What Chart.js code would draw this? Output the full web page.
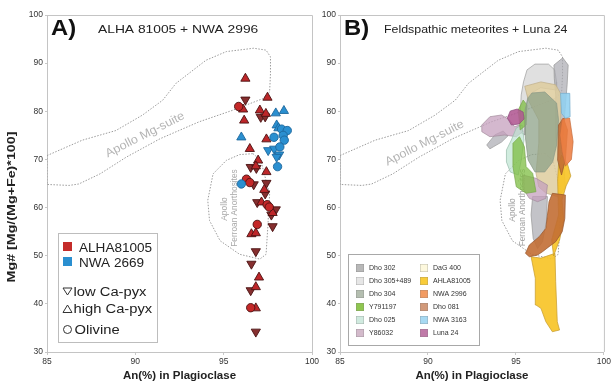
<!DOCTYPE html>
<html><head><meta charset="utf-8">
<script src="https://cdn.jsdelivr.net/npm/chart.js@4.4.0/dist/chart.umd.min.js"></script>
<style>
html,body{margin:0;padding:0;background:#fff;width:613px;height:386px;overflow:hidden}
#ca{position:absolute;left:0;top:0}
#cb{position:absolute;left:318px;top:0}
</style></head><body>
<canvas id="ca" width="330" height="386"></canvas>
<canvas id="cb" width="295" height="386"></canvas>
<script>
// ---------- DATA ----------
const xTicks = [85, 90, 95, 100];
const yTicks = [30, 40, 50, 60, 70, 80, 90, 100];

// Panel A: ALHA81005 (red) and NWA 2669 (blue) mineral analyses [An%, Mg#]
const alhaLowCa = [[96.23,82.4],[97.1,78.8],[97.35,78.9],[96.53,68.4],[96.85,68.2],[97.42,65.1],[96.7,64.8],[97.35,62.9],[96.9,61.1],[97.95,59.6],[97.7,58.5],[97.77,56.1],[96.82,50.9],[96.57,48.3],[96.53,42.8],[96.82,34.2]];
const alhaHighCa = [[96.23,86.8],[96.1,80.4],[96.16,78.1],[97.48,82.85],[97.05,80.2],[97.39,79.5],[96.48,72.2],[97.42,74.2],[96.95,69.8],[96.82,68.6],[97.42,67.4],[97.3,63.7],[97.14,61.1],[97.77,58.9],[96.57,54.5],[96.82,54.7],[97.0,45.5],[96.82,43.5],[96.82,39.1]];
const alhaOlivine = [[95.85,81.0],[96.29,65.9],[96.48,65.2],[97.46,60.6],[97.58,60.1],[96.9,56.5],[96.53,39.2]];
const nwaLowCa = [[97.52,71.9],[97.86,72.2],[98.14,71.0],[98.0,70.5]];
const nwaHighCa = [[96.0,74.6],[97.95,79.6],[98.41,80.1],[98.0,77.1],[98.1,76.5]];
const nwaOlivine = [[96.0,64.9],[98.28,76.3],[98.6,76.0],[98.37,75.0],[98.43,74.0],[97.85,74.6],[98.18,72.6],[98.05,68.5]];

// Apollo fields (dotted outlines)
const mgSuite = [[85,70.8],[87.0,74.0],[88.9,76.0],[90.4,79.2],[91.55,82.3],[92.3,85.8],[92.9,87.5],[94.0,90.6],[95.15,92.4],[96.7,93.1],[97.4,92.7],[97.65,91.3],[97.65,87.8],[97.6,84.0],[97.2,82.6],[95.5,80.2],[93.6,77.8],[91.4,74.3],[89.5,70.5],[88.0,67.0],[86.8,64.9],[86.25,64.6],[85,64.8],[85,70.8]];
const ferroan = [[96.66,71.2],[97.1,69.8],[97.4,65.6],[97.6,62.8],[97.5,56.0],[97.4,50.3],[97.05,49.3],[95.9,50.3],[94.8,53.1],[94.2,57.3],[94.1,61.5],[94.4,67.0],[95.15,69.8],[95.9,71.0],[96.66,71.2]];

// Panel B: meteorite fields (polygons)
const dho305 = [[95.43,86.1],[95.63,88.6],[96.08,89.8],[96.85,89.8],[97.2,88.6],[97.31,86.1],[97.31,84.4],[96.4,84.9],[95.69,83.4],[95.52,79.2],[95.52,75.1],[95.3,75.5],[95.24,79.2],[95.3,83.4]];
const dho302a = [[97.16,89.6],[97.66,91.1],[97.97,89.6],[97.91,85.5],[97.78,79.9],[97.66,73.0],[97.44,70.2],[97.26,74.4],[97.26,83.4],[97.18,86.85]];
const dho302b = [[95.95,62.3],[96.79,62.3],[96.73,57.1],[96.51,52.9],[96.23,51.5],[95.98,53.6],[95.86,58.5]];
const dho302c = [[93.34,73.0],[93.8,75.1],[94.27,75.9],[94.55,74.9],[94.18,73.6],[93.52,72.2]];
const dag400 = [[95.5,85.2],[96.42,86.1],[97.26,85.5],[97.59,83.38],[97.53,76.73],[97.7,69.88],[97.81,64.27],[97.42,62.19],[96.7,63.02],[96.3,64.27],[96.14,67.12],[96.3,73.41],[96.3,78.19],[95.7,82.34]];
const y86032a = [[93.06,77.15],[93.52,78.87],[94.18,79.23],[94.64,78.19],[94.92,76.8],[95.2,77.15],[95.39,75.76],[95.02,74.72],[94.36,75.07],[93.52,74.72],[93.06,75.76]];
const y86032b = [[95.39,66.76],[96.14,66.08],[96.79,64.69],[96.7,61.92],[96.23,61.22],[95.76,61.92],[95.39,64.0]];
const dho025 = [[94.46,71.96],[94.74,74.03],[95.02,76.53],[95.35,77.15],[95.46,74.03],[95.3,69.88],[95.13,66.76],[94.68,67.39],[94.46,69.46]];
const y791197a = [[94.83,73.35],[95.2,74.72],[95.48,72.64],[95.58,68.49],[95.95,67.12],[96.14,63.29],[95.58,62.96],[95.02,64.33],[94.83,68.49]];
const y791197b = [[95.13,80.27],[95.41,82.34],[95.63,81.3],[95.58,77.15],[95.24,76.11]];
const dho304 = [[95.91,83.8],[96.64,84.0],[97.31,81.7],[97.42,78.2],[97.31,73.0],[97.09,69.5],[96.64,67.4],[96.08,67.4],[95.69,69.9],[95.52,75.1],[95.52,80.3],[95.69,82.8]];
const luna24 = [[94.51,78.6],[94.68,80.06],[95.07,80.47],[95.41,79.85],[95.46,78.4],[95.18,77.36],[94.74,77.15]];
const alha81005a = [[95.86,49.79],[96.42,49.5],[97.22,50.5],[97.26,44.6],[97.35,36.29],[97.48,34.57],[97.07,34.21],[96.7,36.29],[96.42,39.07],[96.14,39.76],[96.1,45.31]];
const alha81005b = [[97.59,70.92],[97.93,69.05],[98.12,66.56],[97.85,64.48],[97.62,61.57],[97.72,57.42],[97.48,53.26],[97.14,49.94],[97.03,53.26],[97.42,58.45],[97.37,65.73],[97.42,68.84]];
const dho081a = [[97.07,62.96],[97.81,62.61],[97.78,57.77],[97.63,54.99],[97.26,52.91],[96.88,51.87],[96.51,50.83],[96.23,50.15],[95.76,49.79],[95.54,50.5],[95.76,52.22],[96.32,53.95],[96.7,55.69],[96.79,58.45],[96.88,61.22]];
const dho081b = [[97.42,77.15],[97.7,78.6],[97.93,76.11],[97.81,69.88],[97.59,66.76],[97.37,69.88]];
const nwa2996 = [[97.62,78.4],[98.05,78.6],[98.25,73.68],[98.15,70.0],[97.81,68.6],[97.62,71.6],[97.5,75.07]];
const nwa3163 = [[97.53,83.73],[98.06,83.73],[98.08,78.87],[97.81,78.54],[97.59,79.58]];

const seriesA = ['ALHA81005', 'NWA 2669'];
const mineralsA = ['low Ca-pyx', 'high Ca-pyx', 'Olivine'];
const meteoritesB = ['Dho 302','Dho 305+489','Dho 304','Y791197','Dho 025','Y86032','DaG 400','AHLA81005','NWA 2996','Dho 081','NWA 3163','Luna 24'];

// ---------- STYLE ----------
const FONT = '"Liberation Sans", Arial, sans-serif';
const swatch = {'Dho 302':'#b8b8b8','Dho 305+489':'#e6e6e6','Dho 304':'#b4beb0','Y791197':'#8fc650','Dho 025':'#d0eadf','Y86032':'#d3bacb','DaG 400':'#fdf8dd','AHLA81005':'#f8cc3a','NWA 2996':'#f29b62','Dho 081':'#d1997a','NWA 3163':'#a7d9f2','Luna 24':'#c07aa8'};
const fillB = {'Dho 302':'rgba(170,170,176,0.7)','Dho 305+489':'rgba(218,218,218,0.85)','Dho 304':'rgba(142,162,136,0.75)','Y791197':'rgba(125,190,65,0.75)','Dho 025':'rgba(190,228,210,0.7)','Y86032':'rgba(198,160,190,0.75)','DaG 400':'rgba(222,205,158,0.85)','AHLA81005':'rgba(247,196,40,0.92)','NWA 2996':'rgba(238,126,66,0.88)','Dho 081':'rgba(194,110,52,0.9)','NWA 3163':'rgba(145,208,240,0.88)','Luna 24':'rgba(176,88,146,0.88)'};
const lineB = {'Dho 302':'#979797','Dho 305+489':'#9c9c9c','Dho 304':'#8a9886','Y791197':'#78a84c','Dho 025':'#98bcac','Y86032':'#a48c9c','DaG 400':'#bfae86','AHLA81005':'#c49a2c','NWA 2996':'#c46c3c','Dho 081':'#94552c','NWA 3163':'#76accb','Luna 24':'#8c4c7c'};

const toXY = a => a.map(p => ({x: p[0], y: p[1]}));

function txt(ctx, s, x, y, o) {
  ctx.save();
  ctx.translate(x, y);
  if (o.rot) ctx.rotate(o.rot * Math.PI / 180);
  ctx.scale(o.sx || 1, 1);
  ctx.font = o.font;
  ctx.fillStyle = o.color || '#222';
  ctx.textAlign = o.align || 'left';
  ctx.textBaseline = o.base || 'alphabetic';
  ctx.fillText(s, 0, 0);
  ctx.restore();
}

function outline(arr, order) {
  return {data: toXY(arr), showLine: true, fill: false, borderColor: '#9c9c9c', borderWidth: 1, borderDash: [1.5, 1.5], pointRadius: 0, pointHoverRadius: 0, tension: 0, order};
}
function poly(name, arr, order) {
  const pts = toXY(arr); pts.push({x: arr[0][0], y: arr[0][1]});
  return {label: name, data: pts, showLine: true, fill: 'shape', backgroundColor: fillB[name], borderColor: lineB[name], borderWidth: 0.7, pointRadius: 0, pointHoverRadius: 0, tension: 0, order};
}
function markers(arr, style, rot, fillC, lineC, r, order) {
  return {data: toXY(arr), showLine: false, pointStyle: style, pointRotation: rot, pointRadius: r, pointHoverRadius: r, pointBackgroundColor: fillC, pointBorderColor: lineC, pointBorderWidth: 0.9, order};
}

function scalesFor(yWidth) {
  const tickFont = {family: FONT, size: 8.5};
  return {
    x: {type: 'linear', min: 85, max: 100,
      afterBuildTicks: s => { s.ticks = xTicks.map(v => ({value: v})); },
      afterFit: s => { s.height = 34; },
      grid: {drawOnChartArea: false, drawTicks: true, tickLength: 3, color: '#c8c8c8'},
      border: {color: '#c4c4c4'},
      ticks: {font: tickFont, color: '#333', padding: 2, maxRotation: 0, autoSkip: false},
      title: {display: true, text: 'An(%) in Plagioclase', font: {family: FONT, size: 11.5, weight: 'bold'}, color: '#222', padding: {top: 0, bottom: 3}}
    },
    y: {type: 'linear', min: 30, max: 100,
      afterBuildTicks: s => { s.ticks = yTicks.map(v => ({value: v})); },
      afterFit: s => { s.width = yWidth; },
      grid: {drawOnChartArea: false, drawTicks: true, tickLength: 2, color: '#c8c8c8'},
      border: {color: '#c4c4c4'},
      ticks: {font: tickFont, color: '#333', padding: 2}
    }
  };
}

function frame(chart) {
  const {ctx, chartArea: a} = chart;
  ctx.save();
  ctx.strokeStyle = '#c4c4c4'; ctx.lineWidth = 1;
  ctx.beginPath();
  ctx.moveTo(a.left, a.top + 0.5); ctx.lineTo(a.right + 0.5, a.top + 0.5); ctx.lineTo(a.right + 0.5, a.bottom);
  ctx.stroke();
  ctx.restore();
}

// ---------- PANEL A ----------
const RED_UP = '#bd2629', RED_DN = '#862f2f', RED_EDGE = '#4a1212';
const BLUE = '#2a8fd0', BLUE_EDGE = '#1d679c';

const decorA = {
  id: 'decorA',
  beforeDatasetsDraw(chart) {
    const {ctx, scales: {x, y}} = chart;
    txt(ctx, 'Apollo Mg-suite', x.getPixelForValue(90.55), y.getPixelForValue(75.1), {font: '12px ' + FONT, color: '#b4b4b4', rot: -27, align: 'center', base: 'middle', sx: 1.05});
    txt(ctx, 'Apollo', x.getPixelForValue(95.07), y.getPixelForValue(59.7), {font: '8.5px ' + FONT, color: '#a8a8a8', rot: -90, align: 'center', base: 'middle'});
    txt(ctx, 'Ferroan Anorthosites', x.getPixelForValue(95.64), y.getPixelForValue(59.9), {font: '8.3px ' + FONT, color: '#a8a8a8', rot: -90, align: 'center', base: 'middle'});
  },
  afterDraw(chart) {
    const {ctx} = chart;
    frame(chart);
    txt(ctx, 'A)', 51, 35, {font: 'bold 22px ' + FONT, color: '#111', sx: 1.08});
    txt(ctx, 'ALHA 81005 + NWA 2996', 98, 33, {font: '11.8px ' + FONT, color: '#222', sx: 1.17});
    txt(ctx, 'Mg# [Mg/(Mg+Fe)*100]', 12, 207, {font: 'bold 11.5px ' + FONT, color: '#222', rot: -90, align: 'center', base: 'middle', sx: 1.24});
    // legend
    ctx.save();
    ctx.fillStyle = '#fff'; ctx.fillRect(58, 233, 99, 109);
    ctx.strokeStyle = '#bdbdbd'; ctx.lineWidth = 1; ctx.strokeRect(58.5, 233.5, 99, 109);
    ctx.fillStyle = '#c42c2a'; ctx.fillRect(63, 242, 9, 9);
    ctx.fillStyle = BLUE; ctx.fillRect(63, 257, 9, 9);
    ctx.strokeStyle = '#333'; ctx.lineWidth = 1;
    ctx.beginPath(); ctx.moveTo(63, 288); ctx.lineTo(72, 288); ctx.lineTo(67.5, 295); ctx.closePath(); ctx.stroke();
    ctx.beginPath(); ctx.moveTo(63, 312.5); ctx.lineTo(72, 312.5); ctx.lineTo(67.5, 305); ctx.closePath(); ctx.stroke();
    ctx.beginPath(); ctx.arc(67.5, 329.5, 4, 0, Math.PI * 2); ctx.stroke();
    ctx.restore();
    txt(ctx, seriesA[0], 79, 251.5, {font: '12px ' + FONT, color: '#222', sx: 1.13});
    txt(ctx, seriesA[1], 79, 266.5, {font: '12px ' + FONT, color: '#222', sx: 1.13});
    txt(ctx, mineralsA[0], 73.5, 296, {font: '12.5px ' + FONT, color: '#222', sx: 1.18});
    txt(ctx, mineralsA[1], 73.5, 313, {font: '12.5px ' + FONT, color: '#222', sx: 1.18});
    txt(ctx, mineralsA[2], 74.5, 334, {font: '12.5px ' + FONT, color: '#222', sx: 1.18});
  }
};

new Chart(document.getElementById('ca'), {
  type: 'scatter',
  data: {datasets: [
    outline(mgSuite, 20),
    outline(ferroan, 19),
    markers(alhaLowCa, 'triangle', 180, RED_DN, RED_EDGE, 5.3, 6),
    markers(alhaHighCa, 'triangle', 0, RED_UP, RED_EDGE, 5.3, 5),
    markers(alhaOlivine, 'circle', 0, '#c42828', RED_EDGE, 4.2, 4),
    markers(nwaLowCa, 'triangle', 180, BLUE, BLUE_EDGE, 5.3, 3),
    markers(nwaHighCa, 'triangle', 0, BLUE, BLUE_EDGE, 5.3, 2),
    markers(nwaOlivine, 'circle', 0, BLUE, BLUE_EDGE, 4.2, 1)
  ]},
  options: {
    responsive: false, animation: false, events: [], devicePixelRatio: 1,
    layout: {padding: {left: 0, right: 18, top: 15, bottom: 0}},
    plugins: {legend: {display: false}, tooltip: {enabled: false}},
    scales: scalesFor(47)
  },
  plugins: [decorA]
});

// ---------- PANEL B ----------
const decorB = {
  id: 'decorB',
  beforeDatasetsDraw(chart) {
    const {ctx, scales: {x, y}} = chart;
    txt(ctx, 'Apollo Mg-suite', x.getPixelForValue(89.81), y.getPixelForValue(73.4), {font: '12px ' + FONT, color: '#b4b4b4', rot: -27, align: 'center', base: 'middle', sx: 1.05});
    txt(ctx, 'Apollo', x.getPixelForValue(94.79), y.getPixelForValue(59.5), {font: '8.5px ' + FONT, color: '#a0a0a0', rot: -90, align: 'center', base: 'middle'});
    txt(ctx, 'Ferroan Anorthosites', x.getPixelForValue(95.41), y.getPixelForValue(60.0), {font: '8.3px ' + FONT, color: '#a0a0a0', rot: -90, align: 'center', base: 'middle'});
  },
  afterDraw(chart) {
    const {ctx} = chart;
    frame(chart);
    txt(ctx, 'B)', 26, 35, {font: 'bold 22px ' + FONT, color: '#111', sx: 1.08});
    txt(ctx, 'Feldspathic meteorites + Luna 24', 66, 33, {font: '11.8px ' + FONT, color: '#222', sx: 1.05});
    // legend box
    const bx = 348 - 318, by = 254;
    ctx.save();
    ctx.fillStyle = '#fff'; ctx.fillRect(bx, by, 131, 91);
    ctx.strokeStyle = '#a8a8a8'; ctx.lineWidth = 1; ctx.strokeRect(bx + 0.5, by + 0.5, 131, 91);
    ctx.restore();
    meteoritesB.forEach((name, i) => {
      const col = Math.floor(i / 6), row = i % 6;
      const sx = (col ? 420 : 356) - 318, cy = 268 + row * 13;
      ctx.save();
      ctx.fillStyle = swatch[name]; ctx.fillRect(sx, cy - 4, 8, 8);
      ctx.strokeStyle = 'rgba(120,120,120,0.5)'; ctx.lineWidth = 0.5; ctx.strokeRect(sx + 0.25, cy - 3.75, 7.5, 7.5);
      ctx.restore();
      txt(ctx, name, sx + 13, cy + 0.5, {font: '7px ' + FONT, color: '#333', base: 'middle'});
    });
  }
};

const polyList = [
  ['Dho 305+489', dho305], ['Dho 302', dho302a], ['Dho 302', dho302b], ['Dho 302', dho302c],
  ['DaG 400', dag400], ['Y86032', y86032a], ['Y86032', y86032b], ['Dho 025', dho025],
  ['Y791197', y791197a], ['Y791197', y791197b], ['Dho 304', dho304], ['Luna 24', luna24],
  ['AHLA81005', alha81005a], ['AHLA81005', alha81005b], ['Dho 081', dho081a], ['Dho 081', dho081b],
  ['NWA 2996', nwa2996], ['NWA 3163', nwa3163]
];
const dsB = [outline(mgSuite, 200), outline(ferroan, 199)];
polyList.forEach((p, i) => dsB.push(poly(p[0], p[1], 100 - i)));

new Chart(document.getElementById('cb'), {
  type: 'scatter',
  data: {datasets: dsB},
  options: {
    responsive: false, animation: false, events: [], devicePixelRatio: 1,
    layout: {padding: {left: 0, right: 5, top: 15, bottom: 0}},
    plugins: {legend: {display: false}, tooltip: {enabled: false}},
    scales: scalesFor(22)
  },
  plugins: [decorB]
});
</script></body></html>
